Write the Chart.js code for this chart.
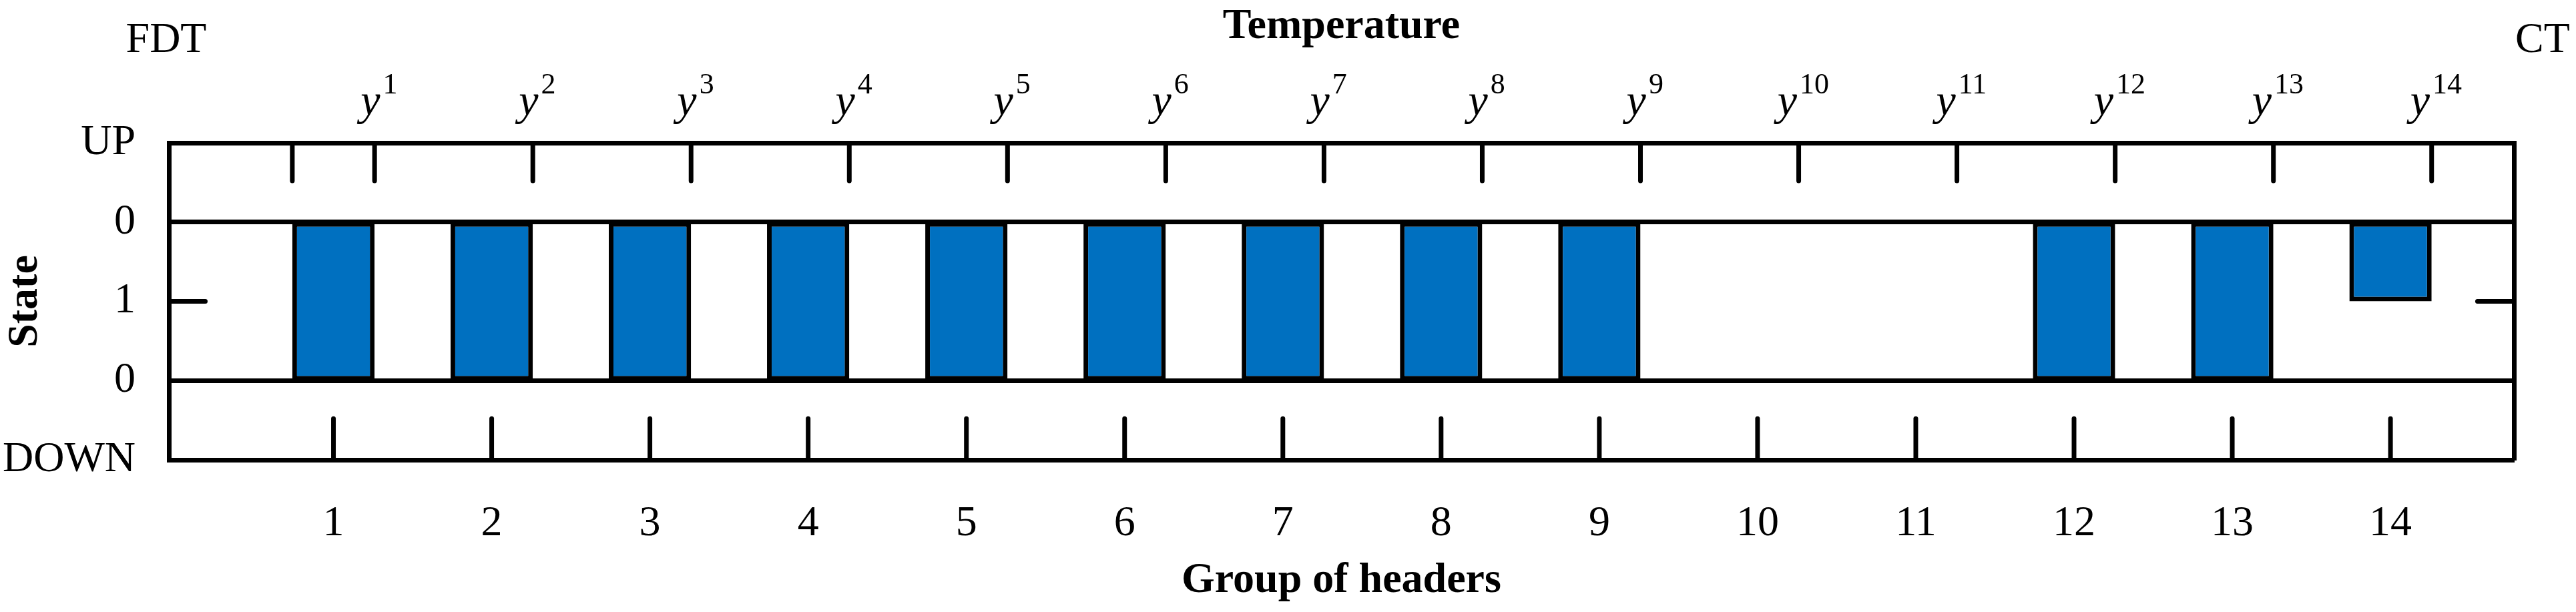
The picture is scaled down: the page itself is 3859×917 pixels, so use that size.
<!DOCTYPE html>
<html><head><meta charset="utf-8">
<script src="https://cdn.jsdelivr.net/npm/chart.js@4"></script>
<style>html,body{margin:0;padding:0;background:#fff;overflow:hidden}</style>
</head><body>
<canvas id="c" width="3859" height="917"></canvas>
<script>
const groups = [1,2,3,4,5,6,7,8,9,10,11,12,13,14];
const groupLabels = ['1','2','3','4','5','6','7','8','9','10','11','12','13','14'];
const tempBase = 'y';
const tempSup = ['1','2','3','4','5','6','7','8','9','10','11','12','13','14'];
// state intervals per group: [low, high] on a scale DOWN=0, 0=1, 1=2, 0=3, UP=4
const stateLow  = [1,1,1,1,1,1,1,1,1,null,null,1,1,2];
const stateHigh = [3,3,3,3,3,3,3,3,3,null,null,3,3,3];
const stateTickLabels = ['DOWN','0','1','0','UP'];
const topTickPos = [0.74,1.26,2.26,3.26,4.26,5.26,6.26,7.26,8.26,9.26,10.26,11.26,12.26,13.26,14.26];
const xMin = -0.04, xMax = 14.78;

const FONT = "'Liberation Serif', 'Times New Roman', serif";
const segs = [];
topTickPos.forEach(p => segs.push([{x:p,y:4},{x:p,y:3.52}]));
groups.forEach(g => segs.push([{x:g,y:0},{x:g,y:0.52}]));
segs.push([{x:xMin,y:2},{x:xMin+0.23,y:2}]);
segs.push([{x:xMax-0.23,y:2},{x:xMax,y:2}]);

const datasets = [{
  type:'bar',
  data: groups.map((g,i)=>({x:g, y: stateLow[i]==null?null:[stateLow[i],stateHigh[i]]})),
  backgroundColor:'#0070C0', borderColor:'#000', borderWidth:7, borderSkipped:false,
  barPercentage:0.52, categoryPercentage:1, xAxisID:'x', yAxisID:'y'
}];
segs.forEach(s => datasets.push({type:'line', data:s, borderColor:'#000', borderWidth:7,
  pointRadius:0, borderCapStyle:'round', xAxisID:'x', yAxisID:'y'}));

const extraText = {
  id:'extraText',
  afterDraw(chart){
    const ctx = chart.ctx; ctx.save();
    ctx.fillStyle='#000'; ctx.textBaseline='alphabetic';
    ctx.font = '64px ' + FONT; ctx.textAlign='center';
    ctx.fillText('FDT', 249, 78);
    ctx.fillText('CT', 3809, 78);
    const sx = chart.scales.x2;
    groups.forEach((g,i)=>{
      const px = sx.getPixelForValue(g+0.28);
      ctx.font = 'italic 66px ' + FONT;
      const wy = ctx.measureText(tempBase).width;
      ctx.font = '44px ' + FONT;
      const ws = ctx.measureText(tempSup[i]).width;
      const left = px - (wy+ws)/2;
      ctx.textAlign='left';
      ctx.font = 'italic 66px ' + FONT;
      ctx.fillText(tempBase, left, 172);
      ctx.font = '44px ' + FONT;
      ctx.fillText(tempSup[i], left+wy+4, 140);
    });
    ctx.restore();
  }
};

new Chart(document.getElementById('c'), {
  data:{datasets},
  plugins:[extraText],
  options:{
    responsive:false, animation:false, devicePixelRatio:1,
    layout:{padding:{left:0,right:93,top:0,bottom:0}},
    plugins:{legend:{display:false}, tooltip:{enabled:false}},
    scales:{
      x:{type:'linear', position:'bottom', min:xMin, max:xMax, offset:false,
        afterBuildTicks(s){ s.ticks = groups.map(v=>({value:v})); },
        afterFit(s){ s.height = 228; },
        ticks:{callback:(v,i)=>groupLabels[i], font:{family:FONT,size:64}, color:'#000', padding:50, maxRotation:0, autoSkip:false},
        grid:{display:false}, border:{display:true,color:'#000',width:7},
        title:{display:true, text:'Group of headers', font:{family:FONT,size:64,weight:'bold'}, color:'#000', padding:{top:0,bottom:8}}
      },
      x2:{type:'linear', position:'top', min:xMin, max:xMax, offset:false,
        afterFit(s){ s.height = 214; },
        ticks:{display:false},
        grid:{display:false}, border:{display:true,color:'#000',width:7},
        title:{display:true, text:'Temperature', font:{family:FONT,size:64,weight:'bold'}, color:'#000', padding:{top:2,bottom:0}}
      },
      y:{type:'linear', min:0, max:4,
        afterBuildTicks(s){ s.ticks = [0,1,2,3,4].map(v=>({value:v})); },
        afterFit(s){ s.width = 253; },
        ticks:{callback:(v,i)=>stateTickLabels[i], font:{family:FONT,size:64}, color:'#000', padding:50},
        grid:{drawTicks:false, color:(c)=>(c.tick && (c.tick.value===1||c.tick.value===3))?'#000':'rgba(0,0,0,0)', lineWidth:7},
        border:{display:true,color:'#000',width:7},
        title:{display:true, text:'State', font:{family:FONT,size:64,weight:'bold'}, color:'#000', padding:{top:0,bottom:0}}
      },
      y2:{type:'linear', position:'right', min:0, max:4,
        afterFit(s){ s.width = 0; },
        ticks:{display:false}, grid:{display:false},
        border:{display:true,color:'#000',width:7}
      }
    }
  }
});
</script>
</body></html>
